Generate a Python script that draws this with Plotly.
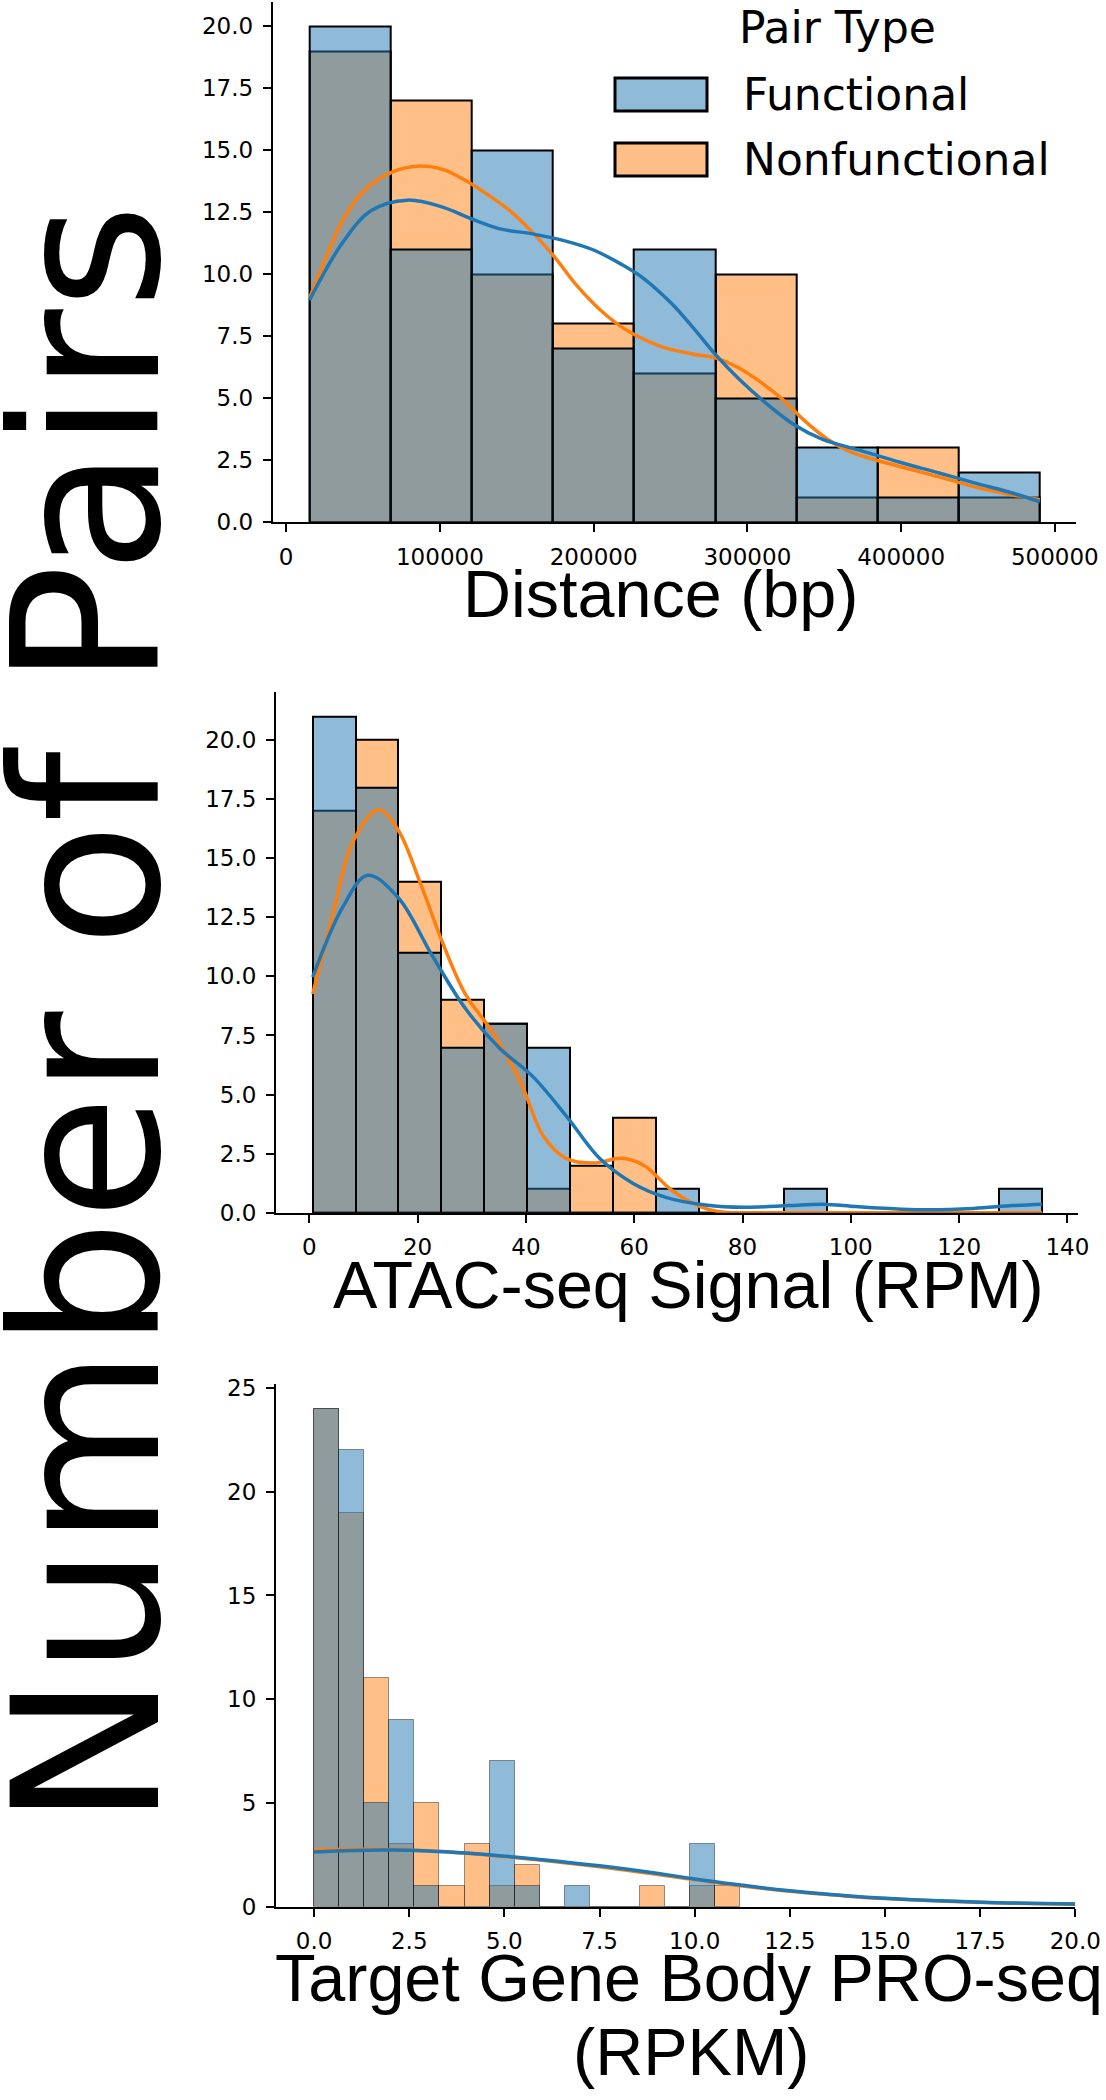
import numpy as np
import plotly.graph_objects as go

# ---------------- data ----------------
series_names = ["Functional", "Nonfunctional"]

# Panel 1: Distance (bp)
dist_bin_start = 15163
dist_bin_width = 52787
dist_func_counts = [20, 11, 15, 7, 11, 5, 3, 1, 2]
dist_nonfunc_counts = [19, 17, 10, 8, 6, 10, 1, 3, 1]
dist_func_kde_x = [15163, 36957, 55072, 78623, 102174, 120290, 138406, 160145, 181884, 200000,
                   218116, 232609, 250725, 265217, 279710, 294203, 312319, 330435, 348551,
                   373913, 399275, 424638, 450000, 471739, 490250]
dist_func_kde_y = [8.96, 11.3, 12.56, 12.99, 12.7, 12.24, 11.84, 11.63, 11.34, 10.98,
                   10.4, 9.83, 8.82, 7.81, 6.73, 5.80, 4.79, 3.93, 3.35,
                   2.89, 2.42, 1.99, 1.55, 1.19, 0.83]
dist_nonfunc_kde_x = [15163, 26087, 36957, 51449, 69565, 85870, 102174, 116667, 131159, 145652,
                      160145, 174638, 189130, 203623, 218116, 232609, 247101, 265217, 279710,
                      294203, 308696, 323188, 337681, 352174, 366667, 384783, 406522, 428261,
                      453623, 490250]
dist_nonfunc_kde_y = [9.04, 10.69, 12.2, 13.42, 14.14, 14.36, 14.22, 13.78, 13.21, 12.56,
                      11.7, 10.69, 9.54, 8.6, 7.88, 7.38, 7.02, 6.78, 6.62,
                      6.23, 5.65, 4.94, 4.07, 3.35, 2.85, 2.49, 2.13, 1.77,
                      1.34, 0.91]
dist_xticks = [0, 100000, 200000, 300000, 400000, 500000]
dist_yticks = [0, 2.5, 5, 7.5, 10, 12.5, 15, 17.5, 20]

# Panel 2: ATAC-seq Signal (RPM)
atac_bin_start = 0.63
atac_bin_width = 7.92
atac_func_counts = [21, 18, 11, 7, 8, 7, 0, 0, 1, 0, 0, 1, 0, 0, 0, 0, 1]
atac_nonfunc_counts = [17, 20, 14, 9, 8, 1, 2, 4, 0, 0, 0, 0, 0, 0, 0, 0, 0]
atac_func_kde_x = [0.63, 6.1, 10.75, 16.4, 22.6, 28.8, 35.0, 41.2, 47.4, 53.6, 59.8, 66.0,
                   73.2, 80.4, 88.6, 94.8, 101.0, 109.3, 114.5, 122.7, 129.9, 135.3]
atac_func_kde_y = [9.97, 12.9, 14.28, 13.34, 10.92, 8.65, 6.99, 5.78, 4.11, 2.30, 1.24, 0.64,
                   0.33, 0.23, 0.30, 0.36, 0.26, 0.15, 0.12, 0.18, 0.30, 0.36]
atac_nonfunc_kde_x = [0.63, 4.0, 8.2, 12.8, 16.4, 20.5, 24.7, 28.8, 34.0, 39.1, 43.3, 47.4,
                      52.5, 57.7, 61.8, 67.0, 72.2, 76.3, 85.0, 100.0, 120.0, 135.3]
atac_nonfunc_kde_y = [9.26, 12.28, 15.76, 17.05, 16.2, 13.95, 11.38, 9.26, 7.59, 5.48, 3.21, 2.30,
                      2.10, 2.30, 2.0, 0.94, 0.26, 0.03, 0.0, 0.0, 0.0, 0.0]
atac_xticks = [0, 20, 40, 60, 80, 100, 120, 140]
atac_yticks = [0, 2.5, 5, 7.5, 10, 12.5, 15, 17.5, 20]

# Panel 3: Target Gene Body PRO-seq (RPKM)
pro_bin_start = 0.0
pro_bin_width = 0.659
pro_func_counts = [24, 22, 5, 9, 1, 0, 0, 7, 1, 0, 1, 0, 0, 0, 0, 3, 0]
pro_nonfunc_counts = [24, 19, 11, 3, 5, 1, 3, 1, 2, 0, 0, 0, 0, 1, 0, 1, 1]
pro_func_kde_x = [0.0, 1.0, 2.0, 3.0, 4.0, 5.0, 6.0, 7.5, 9.0, 10.0, 11.0, 12.5, 14.0, 15.0, 17.5, 20.0]
pro_func_kde_y = [2.63, 2.70, 2.72, 2.68, 2.58, 2.43, 2.26, 1.96, 1.60, 1.33, 1.08, 0.76, 0.52, 0.40, 0.21, 0.12]
pro_nonfunc_kde_x = [0.0, 1.0, 2.0, 3.0, 4.0, 5.0, 6.0, 7.5, 9.0, 10.0, 11.0, 12.5, 14.0, 15.0, 17.5, 20.0]
pro_nonfunc_kde_y = [2.72, 2.76, 2.75, 2.69, 2.57, 2.41, 2.23, 1.92, 1.56, 1.29, 1.05, 0.73, 0.50, 0.38, 0.20, 0.11]
pro_xticks = [0, 2.5, 5, 7.5, 10, 12.5, 15, 17.5, 20]
pro_yticks = [0, 5, 10, 15, 20, 25]

x_titles = ["Distance (bp)", "ATAC-seq Signal (RPM)", "Target Gene Body PRO-seq", "(RPKM)"]
y_title = "Number of Pairs"
legend_title = "Pair Type"

# ---------------- style ----------------
W, H = 1106, 2100
BLUE = "#1f77b4"
ORANGE = "#ff7f0e"
BLUE_FILL = "rgba(31,119,180,0.5)"
ORANGE_FILL = "rgba(255,127,14,0.5)"
FONT = "DejaVu Sans"
TITLE_FONT = "Liberation Sans, Arial, sans-serif"


def px_x(p):
    return p / W


def px_y(p):
    return 1 - p / H


def centers(start, width, n):
    return start + width * (np.arange(n) + 0.5)


fig = go.Figure()

panels = [
    dict(ax="", start=dist_bin_start, width=dist_bin_width, fc=dist_func_counts, nc=dist_nonfunc_counts,
         fkx=dist_func_kde_x, fky=dist_func_kde_y, nkx=dist_nonfunc_kde_x, nky=dist_nonfunc_kde_y,
         edge="black", edgew=2),
    dict(ax="2", start=atac_bin_start, width=atac_bin_width, fc=atac_func_counts, nc=atac_nonfunc_counts,
         fkx=atac_func_kde_x, fky=atac_func_kde_y, nkx=atac_nonfunc_kde_x, nky=atac_nonfunc_kde_y,
         edge="black", edgew=2),
    dict(ax="3", start=pro_bin_start, width=pro_bin_width, fc=pro_func_counts, nc=pro_nonfunc_counts,
         fkx=pro_func_kde_x, fky=pro_func_kde_y, nkx=pro_nonfunc_kde_x, nky=pro_nonfunc_kde_y,
         edge="rgba(0,0,0,0.4)", edgew=1),
]

for p in panels:
    xa, ya = "x" + p["ax"], "y" + p["ax"]
    n = len(p["fc"])
    cx = centers(p["start"], p["width"], n)
    fig.add_trace(go.Bar(x=cx, y=p["nc"], width=p["width"], xaxis=xa, yaxis=ya,
                         marker=dict(color=ORANGE_FILL, line=dict(color=p["edge"], width=p["edgew"])),
                         name=series_names[1], showlegend=False))
    fig.add_trace(go.Bar(x=cx, y=p["fc"], width=p["width"], xaxis=xa, yaxis=ya,
                         marker=dict(color=BLUE_FILL, line=dict(color=p["edge"], width=p["edgew"])),
                         name=series_names[0], showlegend=False))
    fig.add_trace(go.Scatter(x=p["nkx"], y=p["nky"], mode="lines", xaxis=xa, yaxis=ya,
                             line=dict(color=ORANGE, width=3.5, shape="spline", smoothing=1.0),
                             showlegend=False))
    fig.add_trace(go.Scatter(x=p["fkx"], y=p["fky"], mode="lines", xaxis=xa, yaxis=ya,
                             line=dict(color=BLUE, width=3.5, shape="spline", smoothing=1.0),
                             showlegend=False))

axis_common = dict(showline=True, linecolor="black", linewidth=2, ticks="outside", ticklen=8,
                   tickwidth=1.6, tickcolor="black", showgrid=False, zeroline=False,
                   automargin=False,
                   tickfont=dict(family=FONT, size=23, color="black"), ticklabelstandoff=5)

fig.update_layout(
    width=W, height=H, margin=dict(l=0, r=0, t=0, b=0, pad=0), autosize=False,
    plot_bgcolor="white", paper_bgcolor="white", barmode="overlay", bargap=0,
    showlegend=False,
    xaxis=dict(domain=[px_x(272.7), px_x(1076)], range=[-8750, 513750], anchor="y",
               tickvals=dist_xticks, tickformat="d", **axis_common),
    yaxis=dict(domain=[px_y(522.3), px_y(1.5)], range=[0, 21], anchor="x",
               tickvals=dist_yticks, tickformat=".1f", **axis_common),
    xaxis2=dict(domain=[px_x(276), px_x(1077.7)], range=[-6.15, 141.9], anchor="y2",
                tickvals=atac_xticks, tickformat="d", **axis_common),
    yaxis2=dict(domain=[px_y(1212.7), px_y(691.7)], range=[0, 22.05], anchor="x2",
                tickvals=atac_yticks, tickformat=".1f", **axis_common),
    xaxis3=dict(domain=[px_x(276), px_x(1075.3)], range=[-1, 20], anchor="y3",
                tickvals=pro_xticks, tickformat=".1f", **axis_common),
    yaxis3=dict(domain=[px_y(1906.5), px_y(1384)], range=[0, 25.2], anchor="x3",
                tickvals=pro_yticks, tickformat="d", **axis_common),
)

# axis titles
ann = []
title_font = dict(family=TITLE_FONT, size=66.5, color="black")


def add_text(text, xp, yp, font, xanchor="center", angle=0):
    ann.append(dict(text=text, x=px_x(xp), y=px_y(yp), xref="paper", yref="paper",
                    xanchor=xanchor, yanchor="middle", showarrow=False, font=font,
                    textangle=angle, borderpad=0))


add_text(x_titles[0], 660, 594, title_font)
add_text(x_titles[1], 688, 1285, title_font)
add_text(x_titles[2], 274, 1978, title_font, xanchor="left")
add_text(x_titles[3], 691, 2052, title_font)
add_text(y_title, 88, 1015, dict(family=FONT, size=203, color="black"), angle=-90)

# legend (manual)
leg_font = dict(family=FONT, size=44, color="black")
add_text(legend_title, 837, 28, leg_font)
add_text(series_names[0], 742, 94, leg_font, xanchor="left")
add_text(series_names[1], 742, 159, leg_font, xanchor="left")
fig.update_layout(annotations=ann)

shapes = [
    dict(type="rect", xref="paper", yref="paper", x0=px_x(615), x1=px_x(707), y0=px_y(111), y1=px_y(78),
         fillcolor=BLUE_FILL, line=dict(color="black", width=3)),
    dict(type="rect", xref="paper", yref="paper", x0=px_x(615), x1=px_x(707), y0=px_y(176), y1=px_y(143),
         fillcolor=ORANGE_FILL, line=dict(color="black", width=3)),
]
fig.update_layout(shapes=shapes)

fig.write_html("out.html", config={"displayModeBar": False},
               post_script="document.body.style.margin='0px';")
